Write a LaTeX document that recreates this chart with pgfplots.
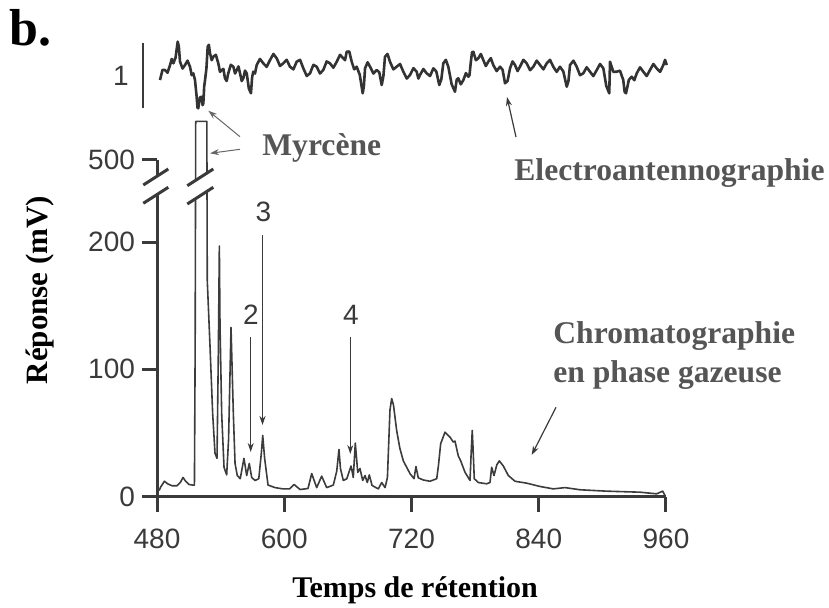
\documentclass[border=0pt]{standalone}
\usepackage{fontspec}
\setmainfont{Liberation Serif}
\newfontfamily\arialf{Liberation Sans}
\usepackage{pgfplots}
\pgfplotsset{compat=1.18}
\usetikzlibrary{arrows.meta}
\definecolor{axgray}{HTML}{3A3A3A}
\definecolor{lblgray}{HTML}{555555}
\definecolor{trace}{HTML}{3C3C3C}
\begin{document}
\begin{tikzpicture}[x=0.5pt,y=0.5pt]
\useasboundingbox (0,0) rectangle (829,607);
% ---------- chromatogram ----------
\begin{axis}[
  at={(78.5pt,55.25pt)}, anchor=south west,
  scale only axis, width=254.5pt, height=168.5pt,
  xmin=480, xmax=960, ymin=0, ymax=265,
  enlargelimits=false, clip=false,
  axis x line=bottom, axis y line=left,
  axis line style={-, line width=1.5pt, draw=axgray},
  xtick={480,600,720,840,960},
  ytick={0,100,200,265}, yticklabels={0,100,200,500},
  tick align=outside, major tick length=7.5pt,
  tick style={line width=1.5pt, draw=axgray},
  /pgf/number format/assume math mode=true,
  /pgf/number format/1000 sep={},
  ticklabel style={font=\arialf\fontsize{14}{16}\selectfont, text=axgray},
  xticklabel style={yshift=-5pt},
  yticklabel style={xshift=0pt},
  xlabel={Temps de rétention},
  ylabel={Réponse (mV)},
  xlabel style={at={(axis description cs:0.507,-0.2982)}, anchor=base, font=\bfseries\fontsize{15}{18}\selectfont},
  ylabel style={at={(axis description cs:-0.2298,0.6128)}, anchor=center, font=\bfseries\fontsize{15.5}{18}\selectfont},
]
\addplot[trace, line width=0.8pt, line join=round] coordinates {
(482.0,4.7) (483.5,7.5) (487.0,12.0) (490.0,10.0) (494.0,8.5) (499.0,8.5) (502.0,11.0)
(504.5,15.0) (507.0,12.0) (510.0,9.5) (513.5,9.0) (515.3,9.0) (516.0,120) (516.5,295)
(527.0,295) (527.4,170) (530.0,118) (532.5,65) (534.7,34) (536.6,30) (537.8,110)
(538.8,197) (539.4,136) (541.0,65) (543.2,23) (545.7,17) (547.5,45) (549.8,133)
(552.0,65) (553.6,26) (555.7,16.5) (558.5,14) (562.0,30) (564.6,16.5) (567.0,26)
(569.3,15) (572.4,12.6) (576.0,14) (578.5,35) (579.7,48) (581.5,30) (584.7,9)
(591.3,7) (598.8,6) (605.0,6) (609.2,9.5) (614.9,5.5) (622.4,6.3) (625.9,18)
(630.6,7) (635.3,16) (640.0,7) (646.3,9) (649.5,20) (651.6,37) (653.0,22)
(655.7,12.6) (659.0,14) (663.0,24) (665.1,15) (667.0,42) (669.3,19) (671.4,22)
(674.0,12.6) (676.2,16.5) (678.3,11) (680.2,17) (682.8,8.7) (688.7,6) (691.9,11)
(695.1,7) (697.3,15) (699.7,68) (701.3,77) (703.0,72) (706.0,52) (709.0,38)
(712.3,28) (718.6,18) (722.4,14) (724.2,23.6) (726.4,14.7) (731.1,13) (737.4,12)
(743.8,14) (745.5,25) (747.5,41.5) (751.6,50.6) (756.3,46.7) (759.4,42.8) (761.0,43.6)
(764.1,32) (766.4,28) (770.5,19) (775.2,12.6) (776.3,35) (777.3,52) (778.2,35)
(779.2,14) (783.0,11) (790.9,10) (794.0,11) (795.6,23) (797.8,16.5) (800.5,25)
(802.8,28) (806.6,24) (811.3,16.5) (817.6,12) (828.6,10.5) (841.2,7.9) (853.7,6)
(864.8,7) (878.9,5.3) (904.1,4.2) (935.5,3.4) (951.2,2.1) (956.9,4.2) (959.0,0.8)
};
\end{axis}
% ---------- electroantennogram ----------
\begin{axis}[
  at={(78.5pt,249.35pt)}, anchor=south west,
  scale only axis, width=254.5pt, height=32.5pt,
  xmin=480, xmax=960, ymin=0, ymax=1,
  enlargelimits=false, clip=false, hide axis,
]
\addplot[black!80, line width=1.3pt, line join=round] coordinates {
(482.8,.435) (485.2,.592) (487.5,.589) (489.9,.548) (492.3,.666) (493.9,.759)
(495.4,.692) (497.5,.779) (499.5,1.025) (500.6,.951) (501.7,.717) (504.1,.612)
(506.4,.666) (508.8,.733) (511.1,.640) (512.7,.509) (514.2,.538) (515.8,.438)
(517.4,.178) (518.2,.009) (518.9,0) (520.6,.169) (522.2,.178) (523.0,.048)
(523.7,.077) (524.5,.336) (525.3,.435) (526.6,.612) (527.8,.948) (528.9,.977)
(530.0,.846) (531.6,.740) (533.1,.794) (535.5,.823) (537.8,.692) (539.4,.561)
(541.0,.589) (542.6,.606) (544.1,.462) (545.7,.420) (547.2,.538) (549.6,.669)
(552.0,.640) (553.6,.535) (555.2,.589) (556.8,.644) (558.3,.538) (559.9,.420)
(561.4,.462) (563.0,.580) (564.6,.538) (566.6,.305) (568.6,.231) (569.7,.477)
(570.8,.563) (572.4,.535) (574.0,.666) (577.1,.759) (580.2,.692) (583.4,.638)
(586.6,.743) (589.8,.836) (592.9,.769) (596.0,.651) (599.1,.692) (602.3,.746)
(605.4,.640) (608.6,.599) (611.7,.717) (614.9,.746) (618.0,.615) (621.2,.497)
(624.3,.538) (627.5,.669) (630.6,.640) (633.7,.535) (636.8,.589) (640.0,.721)
(643.1,.692) (646.3,.625) (649.5,.717) (652.6,.823) (655.7,.769) (657.3,.740)
(658.9,.871) (661.3,.874) (663.6,.717) (666.0,.599) (668.3,.640) (671.2,.516)
(674.0,.231) (675.1,.343) (676.2,.615) (678.6,.708) (680.9,.640) (684.1,.535)
(687.2,.589) (689.6,.554) (691.9,.358) (693.5,.496) (695.0,.794) (697.4,.836)
(699.7,.717) (702.9,.599) (706.0,.640) (709.2,.682) (712.3,.563) (715.5,.458)
(718.6,.512) (721.8,.618) (724.9,.563) (726.5,.458) (728.0,.512) (731.2,.605)
(734.3,.538) (737.5,.497) (740.6,.615) (743.4,.567) (746.2,.358) (748.1,.445)
(750.0,.692) (752.4,.746) (754.7,.640) (757.9,.368) (761.0,.255) (762.6,.439)
(764.1,.462) (766.5,.369) (768.9,.435) (771.3,.541) (773.6,.486) (774.7,.509)
(775.8,.692) (777.1,.862) (778.3,.871) (780.7,.740) (783.0,.769) (785.4,.836)
(787.7,.743) (790.1,.650) (792.4,.717) (794.8,.772) (797.1,.666) (800.3,.573)
(803.5,.640) (805.9,.593) (808.2,.385) (810.6,.420) (812.9,.615) (815.3,.721)
(817.6,.666) (820.0,.573) (822.3,.640) (825.5,.746) (828.6,.692) (831.8,.586)
(834.9,.640) (838.1,.733) (841.2,.666) (844.4,.599) (847.5,.692) (850.6,.746)
(853.7,.640) (856.9,.560) (860.0,.640) (863.2,.566) (866.4,.332) (868.0,.419)
(869.5,.666) (872.7,.733) (875.8,.640) (878.9,.509) (882.0,.538) (885.2,.631)
(888.3,.563) (891.5,.496) (894.7,.589) (897.8,.682) (900.9,.615) (903.7,.343)
(906.5,.231) (907.2,.717) (910.4,.560) (913.5,.563) (916.6,.579) (919.7,.435)
(921.0,.253) (922.3,.231) (925.0,.439) (927.7,.486) (930.1,.432) (932.4,.538)
(935.5,.631) (938.6,.563) (941.8,.496) (944.9,.589) (948.1,.682) (951.2,.615)
(954.4,.561) (957.5,.666) (959.1,.746) (960.7,.666)
};
\end{axis}
% ---------- scale bar for EAG ----------
\draw[axgray, line width=1pt] (143.3,498.7) -- (143.3,563.7);
\node[font=\arialf\fontsize{14}{16}\selectfont, text=axgray] at (121,531) {1};
% ---------- axis breaks ----------
\fill[white] (143.3,403.7) -- (168.3,419.7) -- (168.3,438) -- (143.3,422) -- cycle;
\draw[axgray, line width=1.5pt] (143.3,403.7) -- (168.3,419.7);
\draw[axgray, line width=1.5pt] (143.3,422) -- (168.3,438);
\fill[white] (187.3,403) -- (213.3,419.7) -- (213.3,438) -- (187.3,421.3) -- cycle;
\draw[axgray, line width=1.5pt] (187.3,403) -- (213.3,419.7);
\draw[axgray, line width=1.5pt] (187.3,421.3) -- (213.3,438);
% ---------- annotations ----------
\node[anchor=base west, inner sep=0pt, font=\bfseries\fontsize{26}{30}\selectfont] at (9,562) {b.};
\node[anchor=base west, inner sep=0pt, text=lblgray, font=\bfseries\fontsize{15.8}{18}\selectfont] at (262,452) {Myrcène};
\node[anchor=base west, inner sep=0pt, text=lblgray, font=\bfseries\fontsize{15.8}{18}\selectfont] at (514,427) {Electroantennographie};
\node[anchor=base west, inner sep=0pt, text=lblgray, font=\bfseries\fontsize{15.8}{18}\selectfont] at (553,264) {Chromatographie};
\node[anchor=base west, inner sep=0pt, text=lblgray, font=\bfseries\fontsize{15.8}{18}\selectfont] at (553,225) {en phase gazeuse};
\node[font=\arialf\fontsize{14}{16}\selectfont, text=axgray] at (251,292) {2};
\node[font=\arialf\fontsize{14}{16}\selectfont, text=axgray] at (263.3,394.7) {3};
\node[font=\arialf\fontsize{14}{16}\selectfont, text=axgray] at (351,292) {4};
\draw[axgray, line width=0.6pt, -{Stealth[length=4.5pt,width=3pt]}] (262.5,372) -- (262.5,182);
\draw[axgray, line width=0.6pt, -{Stealth[length=4.5pt,width=3pt]}] (250.7,270) -- (250.7,155);
\draw[axgray, line width=0.6pt, -{Stealth[length=4.5pt,width=3pt]}] (350.3,270) -- (350.3,153);
\draw[black!60, line width=0.5pt, -{Stealth[length=4.5pt,width=3pt]}] (240,470.3) -- (208.3,496.3);
\draw[black!60, line width=0.5pt, -{Stealth[length=4.5pt,width=3pt]}] (240,457.7) -- (210,453.7);
\draw[axgray, line width=0.6pt, -{Stealth[length=4.5pt,width=3pt]}] (516,470) -- (507,510);
\draw[axgray, line width=0.6pt, -{Stealth[length=4.5pt,width=3pt]}] (556,199.7) -- (531.7,152);
\end{tikzpicture}
\end{document}
